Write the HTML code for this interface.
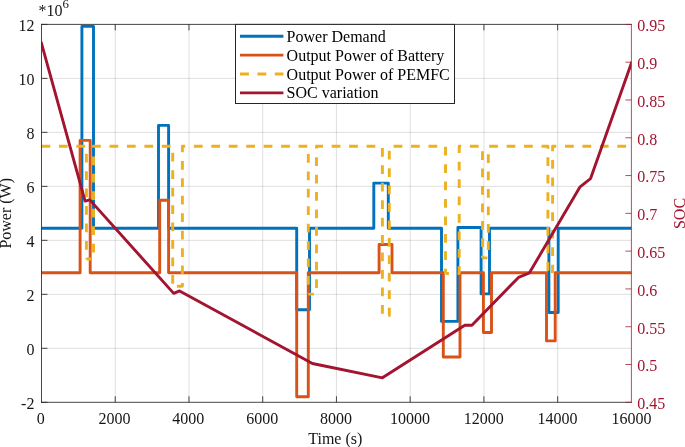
<!DOCTYPE html><html lang="en"><head><meta charset="utf-8"><title>Power demand, battery, PEMFC output and SOC variation</title>
<style>html,body{margin:0;padding:0;background:#fff;}svg{display:block;will-change:transform;}text{font-family:"Liberation Serif","Times New Roman",serif;}</style></head><body>
<svg width="685" height="447" viewBox="0 0 685 447">
<rect width="685" height="447" fill="#fff"/>
<g stroke="#262626" stroke-opacity="0.15" stroke-width="1">
<line x1="115.24" y1="24.40" x2="115.24" y2="402.30"/>
<line x1="188.97" y1="24.40" x2="188.97" y2="402.30"/>
<line x1="262.71" y1="24.40" x2="262.71" y2="402.30"/>
<line x1="336.45" y1="24.40" x2="336.45" y2="402.30"/>
<line x1="410.19" y1="24.40" x2="410.19" y2="402.30"/>
<line x1="483.93" y1="24.40" x2="483.93" y2="402.30"/>
<line x1="557.66" y1="24.40" x2="557.66" y2="402.30"/>
<line x1="41.50" y1="348.31" x2="631.40" y2="348.31"/>
<line x1="41.50" y1="294.33" x2="631.40" y2="294.33"/>
<line x1="41.50" y1="240.34" x2="631.40" y2="240.34"/>
<line x1="41.50" y1="186.36" x2="631.40" y2="186.36"/>
<line x1="41.50" y1="132.37" x2="631.40" y2="132.37"/>
<line x1="41.50" y1="78.39" x2="631.40" y2="78.39"/>
</g>
<defs><clipPath id="axclip"><rect x="41.50" y="24.40" width="589.90" height="377.90"/></clipPath></defs>
<g fill="none" stroke-linejoin="round" stroke-width="2.9">
<polyline points="41.5,228.2 81.9,228.2 81.9,26.4 93.5,26.4 93.5,228.2 158.5,228.2 158.5,125.4 168.6,125.4 168.6,228.2 296.7,228.2 296.7,309.8 309.5,309.8 309.5,228.2 373.8,228.2 373.8,183.1 388.3,183.1 388.3,228.2 441.5,228.2 441.5,321.4 457.9,321.4 457.9,227.5 481.1,227.5 481.1,293.9 489.5,293.9 489.5,228.2 548.9,228.2 548.9,312.5 558.2,312.5 558.2,228.2 631.4,228.2" stroke="#0072BD"/>
<polyline points="41.5,272.8 80.1,272.8 80.1,140.4 90.2,140.4 90.2,272.8 159.7,272.8 159.7,200.2 168.6,200.2 168.6,272.8 296.7,272.8 296.7,396.8 308.3,396.8 308.3,272.8 379.1,272.8 379.1,244.5 392.0,244.5 392.0,272.8 443.3,272.8 443.3,357.0 460.0,357.0 460.0,272.8 483.4,272.8 483.4,332.5 491.5,332.5 491.5,272.8 546.5,272.8 546.5,340.9 555.2,340.9 555.2,272.8 631.4,272.8" stroke="#D95319"/>
<g stroke="#EDB120" stroke-dasharray="8.75,8.69">
<polyline points="41.5,146.3 86.4,146.3 86.4,259.0" stroke-dashoffset="0.00"/>
<polyline points="86.4,259.0 93.5,259.0 93.5,146.3 172.7,146.3 172.7,286.3" stroke-dashoffset="3.72"/>
<polyline points="172.7,286.3 182.4,286.3 182.4,146.3 308.3,146.3 308.3,294.1" stroke-dashoffset="13.20"/>
<polyline points="308.3,294.1 316.5,294.1 316.5,146.3 382.4,146.3 382.4,315.5" stroke-dashoffset="3.20"/>
<polyline points="382.4,315.5 389.3,315.5 389.3,146.3 445.5,146.3 445.5,273.5" stroke-dashoffset="11.44"/>
<polyline points="445.5,273.5 459.2,273.5 459.2,146.3 482.5,146.3 482.5,257.9" stroke-dashoffset="5.36"/>
<polyline points="482.5,257.9 488.3,257.9 488.3,146.3 547.9,146.3 547.9,271.8" stroke-dashoffset="3.82"/>
<polyline points="547.9,271.8 552.6,271.8 552.6,146.3 631.4,146.3" stroke-dashoffset="14.36"/>
</g>
<polyline points="41.5,43.4 85.1,201.1 89.8,199.9 173.7,293.4 179.6,290.9 312.4,363.5 382.4,377.8 464.8,325.2 471.9,325.2 518.5,277.4 529.3,273.0 580.1,186.8 590.5,178.7 631.4,63.0" stroke="#A2142F" stroke-linejoin="round" stroke-linecap="square" clip-path="url(#axclip)"/>
</g>
<path d="M41.50 24.40H631.40 M41.50 402.30H631.40 M41.50 24.40V402.30" stroke="#262626" stroke-width="0.85" fill="none" stroke-linecap="square"/>
<path d="M631.40 24.40V402.30" stroke="#A2142F" stroke-width="0.75" fill="none"/>
<g font-size="16" fill="#151515" stroke-width="0.85">
<text x="40.70" y="424.0" text-anchor="middle">0</text>
<path d="M115.24 24.40v6 M115.24 402.30v-6" stroke="#262626"/>
<text x="114.54" y="424.0" text-anchor="middle">2000</text>
<path d="M188.97 24.40v6 M188.97 402.30v-6" stroke="#262626"/>
<text x="188.37" y="424.0" text-anchor="middle">4000</text>
<path d="M262.71 24.40v6 M262.71 402.30v-6" stroke="#262626"/>
<text x="262.21" y="424.0" text-anchor="middle">6000</text>
<path d="M336.45 24.40v6 M336.45 402.30v-6" stroke="#262626"/>
<text x="336.05" y="424.0" text-anchor="middle">8000</text>
<path d="M410.19 24.40v6 M410.19 402.30v-6" stroke="#262626"/>
<text x="409.89" y="424.0" text-anchor="middle">10000</text>
<path d="M483.93 24.40v6 M483.93 402.30v-6" stroke="#262626"/>
<text x="483.73" y="424.0" text-anchor="middle">12000</text>
<path d="M557.66 24.40v6 M557.66 402.30v-6" stroke="#262626"/>
<text x="557.56" y="424.0" text-anchor="middle">14000</text>
<text x="631.40" y="424.0" text-anchor="middle">16000</text>
<path d="M41.50 402.30h6" stroke="#262626"/>
<text x="34.4" y="408.90" text-anchor="end">-2</text>
<path d="M41.50 348.31h6" stroke="#262626"/>
<text x="34.4" y="354.91" text-anchor="end">0</text>
<path d="M41.50 294.33h6" stroke="#262626"/>
<text x="34.4" y="300.93" text-anchor="end">2</text>
<path d="M41.50 240.34h6" stroke="#262626"/>
<text x="34.4" y="246.94" text-anchor="end">4</text>
<path d="M41.50 186.36h6" stroke="#262626"/>
<text x="34.4" y="192.96" text-anchor="end">6</text>
<path d="M41.50 132.37h6" stroke="#262626"/>
<text x="34.4" y="138.97" text-anchor="end">8</text>
<path d="M41.50 78.39h6" stroke="#262626"/>
<text x="34.4" y="84.99" text-anchor="end">10</text>
<path d="M41.50 24.40h6" stroke="#262626"/>
<text x="34.4" y="31.00" text-anchor="end">12</text>
</g>
<g font-size="16" fill="#A2142F" stroke-width="0.75">
<path d="M631.40 402.30h-6" stroke="#A2142F"/>
<text x="637.2" y="409.10">0.45</text>
<path d="M631.40 364.51h-6" stroke="#A2142F"/>
<text x="637.2" y="371.31">0.5</text>
<path d="M631.40 326.72h-6" stroke="#A2142F"/>
<text x="637.2" y="333.52">0.55</text>
<path d="M631.40 288.93h-6" stroke="#A2142F"/>
<text x="637.2" y="295.73">0.6</text>
<path d="M631.40 251.14h-6" stroke="#A2142F"/>
<text x="637.2" y="257.94">0.65</text>
<path d="M631.40 213.35h-6" stroke="#A2142F"/>
<text x="637.2" y="220.15">0.7</text>
<path d="M631.40 175.56h-6" stroke="#A2142F"/>
<text x="637.2" y="182.36">0.75</text>
<path d="M631.40 137.77h-6" stroke="#A2142F"/>
<text x="637.2" y="144.57">0.8</text>
<path d="M631.40 99.98h-6" stroke="#A2142F"/>
<text x="637.2" y="106.78">0.85</text>
<path d="M631.40 62.19h-6" stroke="#A2142F"/>
<text x="637.2" y="68.99">0.9</text>
<path d="M631.40 24.40h-6" stroke="#A2142F"/>
<text x="637.2" y="31.20">0.95</text>
</g>
<text x="335.3" y="444.3" font-size="16" text-anchor="middle" fill="#151515">Time (s)</text>
<text transform="translate(11.2,213.3) rotate(-90)" font-size="16" text-anchor="middle" fill="#151515">Power (W)</text>
<text transform="translate(685.2,213.5) rotate(-90)" font-size="16" text-anchor="middle" fill="#A2142F">SOC</text>
<text x="38.6" y="15.8" font-size="16" fill="#151515">*10<tspan dy="-8" font-size="12.8">6</tspan></text>
<rect x="235.5" y="24.4" width="219.0" height="79.1" fill="#fff" stroke="#262626" stroke-width="1"/>
<g font-size="16" fill="#000" stroke-width="2.9">
<line x1="240.0" y1="36.2" x2="283.4" y2="36.2" stroke="#0072BD"/>
<text x="286.6" y="41.7">Power Demand</text>
<line x1="240.0" y1="55.1" x2="283.4" y2="55.1" stroke="#D95319"/>
<text x="286.6" y="60.6">Output Power of Battery</text>
<line x1="240.0" y1="74.0" x2="283.4" y2="74.0" stroke="#EDB120" stroke-dasharray="8.9,8.5"/>
<text x="286.6" y="79.5">Output Power of PEMFC</text>
<line x1="240.0" y1="92.9" x2="283.4" y2="92.9" stroke="#A2142F"/>
<text x="286.6" y="98.4">SOC variation</text>
</g>
</svg></body></html>
